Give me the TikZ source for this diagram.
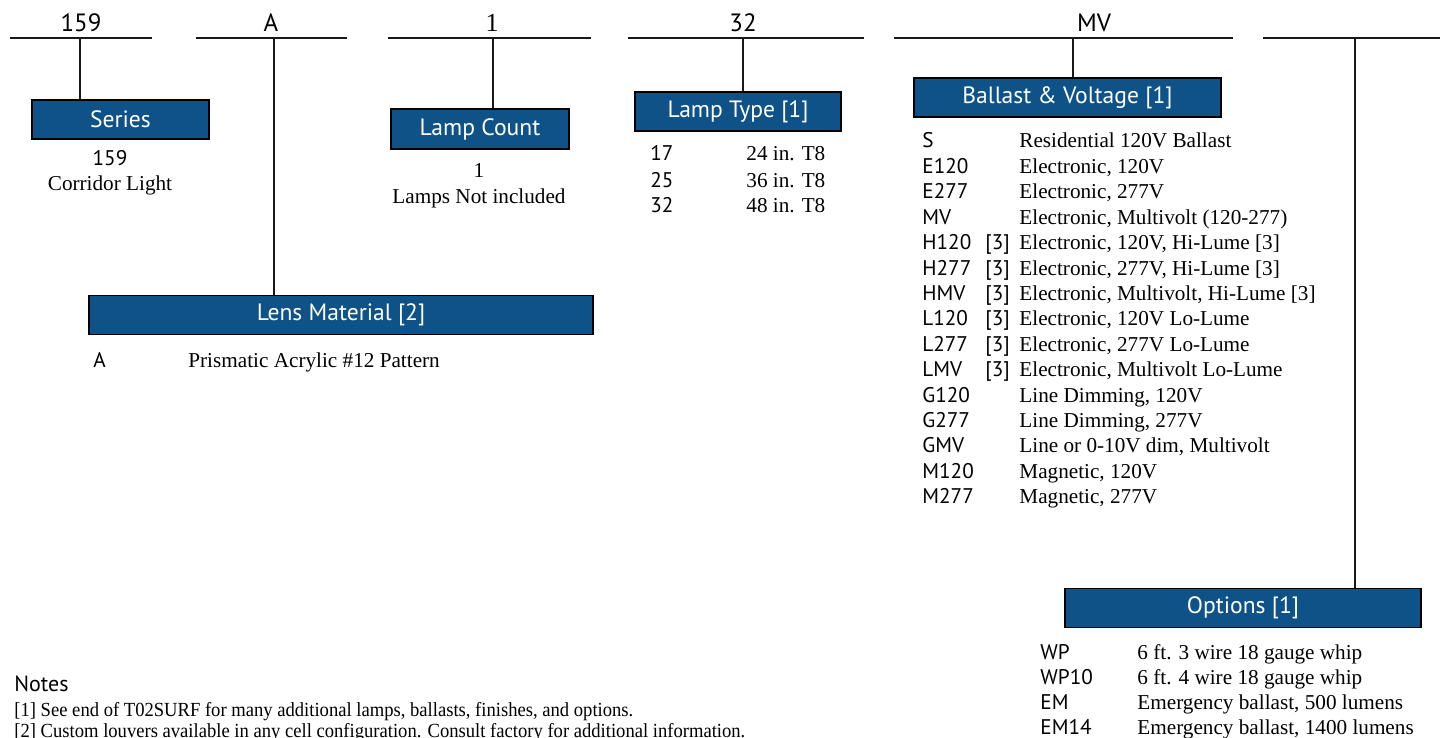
\documentclass[tikz,border=0pt]{standalone}
\usepackage{fontspec}
\setmainfont{Liberation Serif}
\setsansfont{PT Sans}
\definecolor{hdrblue}{RGB}{15,82,135}
\tikzset{
  bar/.style={line width=1.4pt, black!90},
  hdr/.style={draw=black, line width=0.9pt, fill=hdrblue, text=white, inner sep=0pt,
    minimum height=19.5pt, font=\sffamily\fontsize{11.8}{12}\selectfont},
  lbl/.style={anchor=base, font=\sffamily\fontsize{12.5}{14}\selectfont},
  code/.style={anchor=base west, inner sep=0pt, font=\sffamily\fontsize{10.6}{12}\selectfont},
  desc/.style={anchor=base west, inner sep=0pt, font=\fontsize{10.6}{12}\selectfont},
  codec/.style={code, anchor=base},
  descc/.style={desc, anchor=base},
}
\begin{document}
\begin{tikzpicture}[x=0.5pt,y=0.5pt,yscale=-1]
\useasboundingbox (0,0) rectangle (1440,738);
\def\dy{25.4}

%cluster 1
\draw[bar] (10,38) -- (152,38);
\draw (81,32) node[lbl] (v1) {159};
\coordinate (t1) at (80,38);
\draw (120.5,119.5) node[hdr, minimum width=88.5pt] (series) {Series};
\draw[bar] (t1) -- (t1 |- series.north);
% Text Node
\draw (110,165) node[codec] (s1) {159};
\draw (110,191) node[descc] (s2) {Corridor Light};

%cluster 2
\draw[bar] (196,38) -- (347,38);
\draw (271,32) node[lbl] (v2) {A};
\coordinate (t2) at (274,38);
\draw (341,315) node[hdr, minimum width=252pt] (lens) {Lens Material [2]};
\draw[bar] (t2) -- (t2 |- lens.north);
% Text Node
\draw (93,367) node[code] (l1) {A} (188,367) node[desc] (l1d) {Prismatic Acrylic \#12 Pattern};

%cluster 3
\draw[bar] (388,38) -- (591,38);
\draw (492,32) node[lbl, font=\fontsize{13}{14}\selectfont] (v3) {1};
\coordinate (t3) at (493,38);
\draw (480,129) node[hdr, minimum width=89pt, minimum height=20pt] (count) {Lamp Count};
\draw[bar] (t3) -- (t3 |- count.north);
% Text Node
\draw (479,177) node[descc] (c1) {1};
\draw (479,203) node[descc] (c2) {Lamps Not included};

%cluster 4
\draw[bar] (628,38) -- (864,38);
\draw (743,32) node[lbl] (v4) {32};
\coordinate (t4) at (743,38);
\draw (738,111.5) node[hdr, minimum width=103pt] (ltype) {Lamp Type [1]};
\draw[bar] (t4) -- (t4 |- ltype.north);
% Text Node
\draw (650,161) node[code] (lt1) {17} (746,161) node[desc] (lt1d) {24 in. T8};
\draw (650,187) node[code] (lt2) {25} (746,187) node[desc] (lt2d) {36 in. T8};
\draw (650,212) node[code] (lt3) {32} (746,212) node[desc] (lt3d) {48 in. T8};

%cluster 5
\draw[bar] (894,38) -- (1233,38);
\draw (1094,32) node[lbl] (v5) {MV};
\coordinate (t5) at (1073,38);
\draw (1067.5,97.5) node[hdr, minimum width=153.5pt] (ballast) {Ballast \& Voltage [1]};
\draw[bar] (t5) -- (t5 |- ballast.north);
% Text Node
\draw (922,148) node[code] (bc0) {S} (1019,148) node[desc] (bd0) {Residential 120V Ballast};
\draw (922,148+\dy) node[code] (bc1) {E120} (1019,148+\dy) node[desc] (bd1) {Electronic, 120V};
\draw (922,148+2*\dy) node[code] (bc2) {E277} (1019,148+2*\dy) node[desc] (bd2) {Electronic, 277V};
\draw (922,148+3*\dy) node[code] (bc3) {MV} (1019,148+3*\dy) node[desc] (bd3) {Electronic, Multivolt (120-277)};
\draw (922,148+4*\dy) node[code] (bc4) {H120} (985,148+4*\dy) node[code] (bn4) {[3]} (1019,148+4*\dy) node[desc] (bd4) {Electronic, 120V, Hi-Lume [3]};
\draw (922,148+5*\dy) node[code] (bc5) {H277} (985,148+5*\dy) node[code] (bn5) {[3]} (1019,148+5*\dy) node[desc] (bd5) {Electronic, 277V, Hi-Lume [3]};
\draw (922,148+6*\dy) node[code] (bc6) {HMV} (985,148+6*\dy) node[code] (bn6) {[3]} (1019,148+6*\dy) node[desc] (bd6) {Electronic, Multivolt, Hi-Lume [3]};
\draw (922,148+7*\dy) node[code] (bc7) {L120} (985,148+7*\dy) node[code] (bn7) {[3]} (1019,148+7*\dy) node[desc] (bd7) {Electronic, 120V Lo-Lume};
\draw (922,148+8*\dy) node[code] (bc8) {L277} (985,148+8*\dy) node[code] (bn8) {[3]} (1019,148+8*\dy) node[desc] (bd8) {Electronic, 277V Lo-Lume};
\draw (922,148+9*\dy) node[code] (bc9) {LMV} (985,148+9*\dy) node[code] (bn9) {[3]} (1019,148+9*\dy) node[desc] (bd9) {Electronic, Multivolt Lo-Lume};
\draw (922,148+10*\dy) node[code] (bc10) {G120} (1019,148+10*\dy) node[desc] (bd10) {Line Dimming, 120V};
\draw (922,148+11*\dy) node[code] (bc11) {G277} (1019,148+11*\dy) node[desc] (bd11) {Line Dimming, 277V};
\draw (922,148+12*\dy) node[code] (bc12) {GMV} (1019,148+12*\dy) node[desc] (bd12) {Line or 0-10V dim, Multivolt};
\draw (922,148+13*\dy) node[code] (bc13) {M120} (1019,148+13*\dy) node[desc] (bd13) {Magnetic, 120V};
\draw (922,148+14*\dy) node[code] (bc14) {M277} (1019,148+14*\dy) node[desc] (bd14) {Magnetic, 277V};

%cluster 6
\draw[bar] (1263,38) -- (1440,38);
\coordinate (t6) at (1355,38);
\draw (1243,608) node[hdr, minimum width=178pt] (opts) {Options [1]};
\draw[bar] (t6) -- (t6 |- opts.north);
% Text Node
\draw (1040,659) node[code] (o1) {WP} (1137,659) node[desc] (o1d) {6 ft. 3 wire 18 gauge whip};
\draw (1040,684) node[code] (o2) {WP10} (1137,684) node[desc] (o2d) {6 ft. 4 wire 18 gauge whip};
\draw (1040,709) node[code] (o3) {EM} (1137,709) node[desc] (o3d) {Emergency ballast, 500 lumens};
\draw (1040,734) node[code] (o4) {EM14} (1137,734) node[desc] (o4d) {Emergency ballast, 1400 lumens};

%notes
\draw (14,691) node[code, font=\sffamily\fontsize{11}{12}\selectfont] (notes) {Notes};
\draw (14,716) node[desc, font=\fontsize{10}{12}\selectfont] (n1) {\scalebox{0.93}[1]{[1] See end of T02SURF for many additional lamps, ballasts, finishes, and options.}};
\draw (14,737) node[desc, font=\fontsize{10}{12}\selectfont] (n2) {\scalebox{0.93}[1]{[2] Custom louvers available in any cell configuration. Consult factory for additional information.}};
\end{tikzpicture}
\end{document}
